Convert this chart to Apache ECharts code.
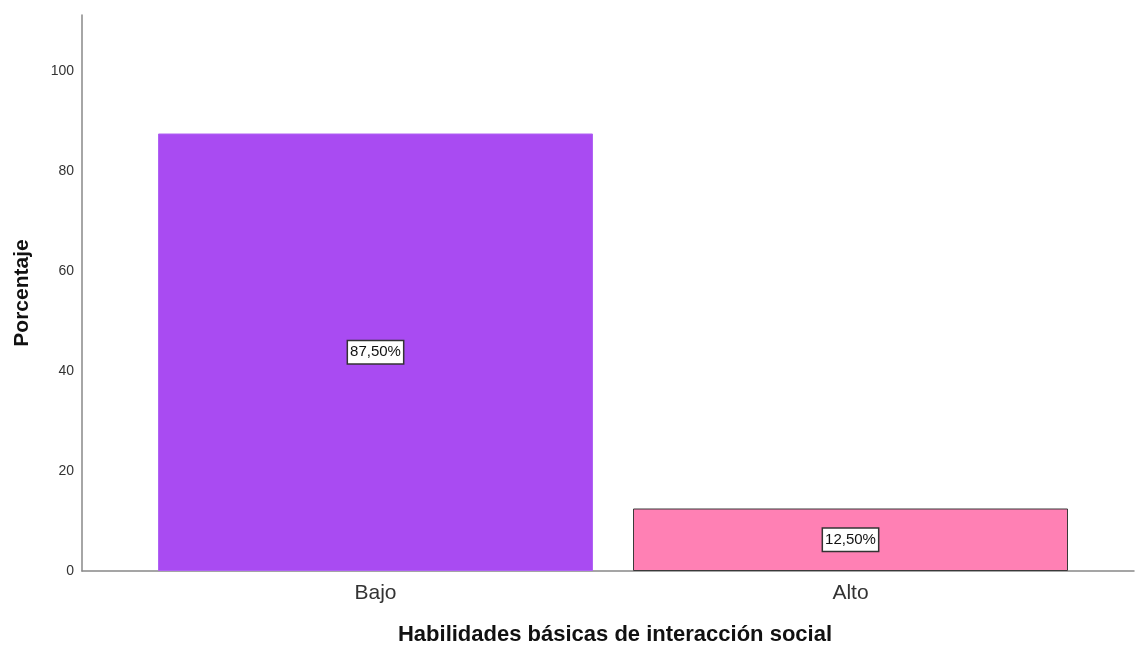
<!DOCTYPE html>
<html><head><meta charset="utf-8">
<script src="https://cdn.jsdelivr.net/npm/echarts@6/dist/echarts.min.js"></script>
<style>html,body{margin:0;padding:0;background:#fff}#c{width:1136px;height:646px}</style>
</head><body><div id="c"></div>
<script>
const categories = ['Bajo', 'Alto'];
const values = [87.5, 12.5];
const barColors = ['#A94BF2', '#FF80B4'];
const barBorders = ['#B063F3', '#3a3a3a'];
const yTicks = [0, 20, 40, 60, 80, 100];

const chart = echarts.init(document.getElementById('c'), null, {renderer: 'canvas'});
const font = 'Liberation Sans, Arial, sans-serif';
chart.setOption({
  animation: false,
  backgroundColor: '#fff',
  grid: [
    {left: 138, right: 48, top: 15, bottom: 75, outerBoundsMode: 'none', containLabel: false},
    {left: 82, right: 2, top: 15, bottom: 75, outerBoundsMode: 'none', containLabel: false}
  ],
  xAxis: [
    {type: 'category', gridIndex: 0, data: categories,
     axisLine: {show: false}, axisTick: {show: false},
     axisLabel: {color: '#333', fontSize: 21, fontFamily: font, margin: 12}},
    {type: 'value', gridIndex: 1, min: 0, max: 1,
     axisLine: {show: true, onZero: false, lineStyle: {color: '#888', width: 1.5}},
     axisTick: {show: false}, axisLabel: {show: false}, splitLine: {show: false},
     name: 'Habilidades básicas de interacción social', nameLocation: 'middle', nameGap: 53,
     nameTextStyle: {color: '#111', fontSize: 22, fontWeight: 'bold', fontFamily: font, padding: [0, 0, 0, 14]}}
  ],
  yAxis: [
    {type: 'value', gridIndex: 0, min: 0, max: 111.2, interval: 20, offset: 56,
     axisLine: {show: true, lineStyle: {color: '#888', width: 1.5}},
     axisTick: {show: false}, splitLine: {show: false},
     axisLabel: {color: '#333', fontSize: 14, fontFamily: font, margin: 8,
       formatter: v => yTicks.includes(v) ? String(v) : ''},
     name: 'Porcentaje', nameLocation: 'middle', nameGap: 49, nameRotate: 90,
     nameTextStyle: {color: '#111', fontSize: 21, fontWeight: 'bold', fontFamily: font}},
    {type: 'value', gridIndex: 1, show: false, min: 0, max: 1}
  ],
  series: [{
    type: 'bar', xAxisIndex: 0, yAxisIndex: 0, barWidth: 435,
    data: values.map((v, i) => ({value: v, itemStyle: {color: barColors[i], borderColor: barBorders[i], borderWidth: 1}})),
    label: {show: true, position: 'inside', color: '#111', fontSize: 15, fontFamily: font,
      backgroundColor: '#fff', borderColor: '#333', borderWidth: 1.5, padding: [4, 2, 3, 2],
      formatter: p => p.value.toFixed(2).replace('.', ',') + '%'}
  }]
});
</script></body></html>
